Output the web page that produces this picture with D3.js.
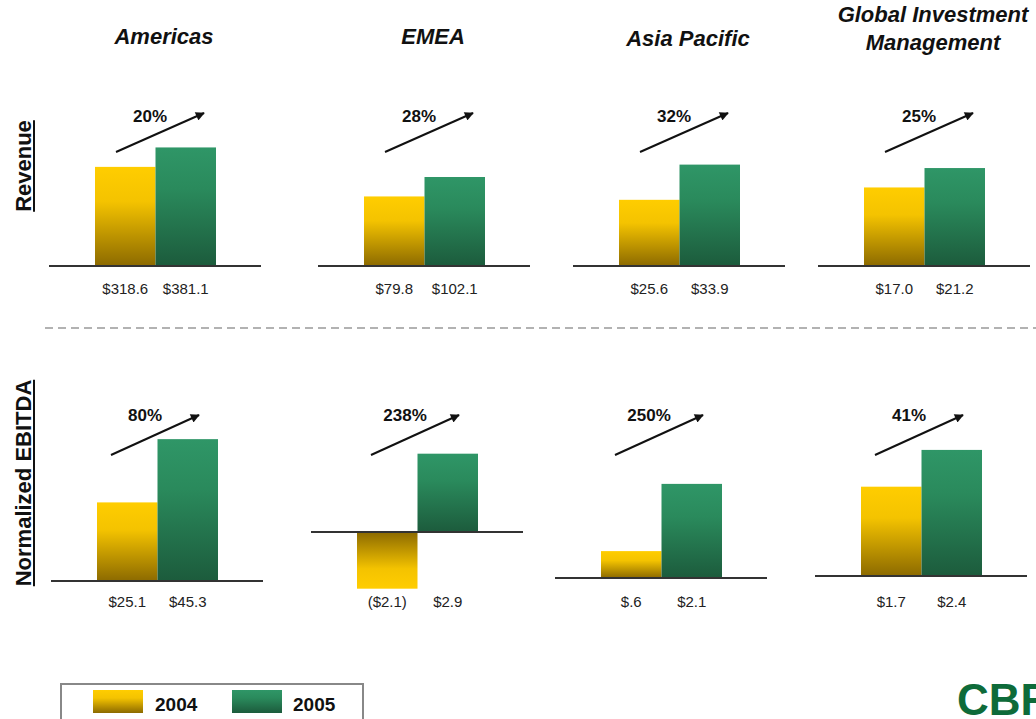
<!DOCTYPE html>
<html><head><meta charset="utf-8">
<script src="https://cdn.jsdelivr.net/npm/d3@7/dist/d3.min.js"></script>
<style>
html,body{margin:0;padding:0;background:#fff;}
svg{display:block;font-family:"Liberation Sans",Arial,sans-serif;}
</style></head>
<body>
<svg id="chart" width="1036" height="719"></svg>
<script>
// ---------- DATA ----------
const regions = ["Americas", "EMEA", "Asia Pacific", "Global Investment Management"];
const regionTitleLines = [["Americas"], ["EMEA"], ["Asia Pacific"], ["Global Investment", "Management"]];
const years = ["2004", "2005"];

const revenue2004 = [318.6, 79.8, 25.6, 17.0];
const revenue2005 = [381.1, 102.1, 33.9, 21.2];
const revenueLabels2004 = ["$318.6", "$79.8", "$25.6", "$17.0"];
const revenueLabels2005 = ["$381.1", "$102.1", "$33.9", "$21.2"];
const revenueGrowth = ["20%", "28%", "32%", "25%"];
const revenueDomains = [[0, 450], [0, 160.6], [10, 43], [0, 30.3]];

const ebitda2004 = [25.1, -2.1, 0.6, 1.7];
const ebitda2005 = [45.3, 2.9, 2.1, 2.4];
const ebitdaLabels2004 = ["$25.1", "($2.1)", "$.6", "$1.7"];
const ebitdaLabels2005 = ["$45.3", "$2.9", "$2.1", "$2.4"];
const ebitdaGrowth = ["80%", "238%", "250%", "41%"];
const ebitdaDomains = [[0, 47.9], [-1.815, 3.74], [-0.067, 3.28], [-0.095, 2.76]];

const rowTitles = ["Revenue", "Normalized EBITDA"];

// ---------- LAYOUT ----------
const svg = d3.select("#chart");
const rows = [
  { key: "rev", v04: revenue2004, v05: revenue2005, l04: revenueLabels2004, l05: revenueLabels2005,
    growth: revenueGrowth, domains: revenueDomains, range: [266, 126],
    centers: [155, 424, 679, 924], labelY: 294, pctY: 122,
    arrow: { x1: -39, y1: 152, x2: 49, y2: 113 }, titleY: 166 },
  { key: "ebitda", v04: ebitda2004, v05: ebitda2005, l04: ebitdaLabels2004, l05: ebitdaLabels2005,
    growth: ebitdaGrowth, domains: ebitdaDomains, range: [581, 431],
    centers: [157, 417, 661, 921], labelY: 607, pctY: 421,
    arrow: { x1: -46, y1: 455, x2: 42, y2: 415 }, titleY: 483 }
];

const defs = svg.append("defs");
function grad(id, c0, cMid, c1, flip) {
  const g = defs.append("linearGradient").attr("id", id)
    .attr("x1", 0).attr("y1", flip ? 1 : 0).attr("x2", 0).attr("y2", flip ? 0 : 1);
  g.append("stop").attr("offset", "0%").attr("stop-color", c0);
  g.append("stop").attr("offset", "35%").attr("stop-color", cMid);
  g.append("stop").attr("offset", "100%").attr("stop-color", c1);
}
grad("yUp", "#ffcd00", "#f4c300", "#8c6a00", false);
grad("yDown", "#ffcd00", "#f4c300", "#8c6a00", true);
grad("gUp", "#2f9667", "#2a8a5c", "#1c5b3c", false);
grad("gDown", "#2f9667", "#2a8a5c", "#1c5b3c", true);

defs.append("marker").attr("id", "arrowHead")
  .attr("viewBox", "0 0 10 10").attr("refX", 9).attr("refY", 5)
  .attr("markerWidth", 5).attr("markerHeight", 4.5).attr("orient", "auto")
  .attr("markerUnits", "strokeWidth")
  .append("path").attr("d", "M0,0 L10,5 L0,10 z").attr("fill", "#111");

const xBar = d3.scaleBand().domain(years).range([-60, 61]).paddingInner(0).paddingOuter(0);

// Region titles
regionTitleLines.forEach((lines, i) => {
  const cx = rows[0].centers[i] + 9;
  const t = svg.append("text").attr("text-anchor", "middle")
    .attr("font-size", 22).attr("font-weight", "bold").attr("font-style", "italic").attr("fill", "#111");
  if (lines.length === 1) {
    t.append("tspan").attr("x", cx).attr("y", i === 2 ? 46 : 44).text(lines[0]);
  } else {
    t.append("tspan").attr("x", cx).attr("y", 22).text(lines[0]);
    t.append("tspan").attr("x", cx).attr("y", 50).text(lines[1]);
  }
});

rows.forEach((row, ri) => {
  // Row title (rotated, underlined)
  const rt = svg.append("g").attr("transform", `translate(31,${row.titleY}) rotate(-90)`);
  const txt = rt.append("text").attr("text-anchor", "middle").attr("font-size", 22)
    .attr("font-weight", "bold").attr("fill", "#111").text(rowTitles[ri]);
  const len = txt.node().getComputedTextLength();
  rt.append("line").attr("x1", -len / 2).attr("x2", len / 2).attr("y1", 3).attr("y2", 3)
    .attr("stroke", "#111").attr("stroke-width", 2);

  regions.forEach((r, i) => {
    const g = svg.append("g").attr("transform", `translate(${row.centers[i]},0)`);
    const dom = row.domains[i];
    const y = d3.scaleLinear().domain(dom).range(row.range);
    const base = y(Math.max(0, dom[0]));
    const vals = [row.v04[i], row.v05[i]];
    const labs = [row.l04[i], row.l05[i]];
    vals.forEach((v, k) => {
      const neg = v < 0;
      const fill = k === 0 ? (neg ? "yDown" : "yUp") : (neg ? "gDown" : "gUp");
      g.append("rect")
        .attr("x", xBar(years[k])).attr("width", xBar.bandwidth())
        .attr("y", Math.min(y(v), base)).attr("height", Math.abs(y(v) - base))
        .attr("fill", `url(#${fill})`);
      g.append("text").attr("x", xBar(years[k]) + xBar.bandwidth() / 2).attr("y", row.labelY)
        .attr("text-anchor", "middle").attr("font-size", 15).attr("fill", "#222").text(labs[k]);
    });
    // baseline axis
    g.append("line").attr("x1", -106).attr("x2", 106).attr("y1", base).attr("y2", base)
      .attr("stroke", "#333").attr("stroke-width", 2);
    // growth arrow
    g.append("line").attr("x1", row.arrow.x1).attr("y1", row.arrow.y1)
      .attr("x2", row.arrow.x2).attr("y2", row.arrow.y2)
      .attr("stroke", "#111").attr("stroke-width", 2).attr("marker-end", "url(#arrowHead)");
    g.append("text").attr("x", row.arrow.x1 + 34).attr("y", row.pctY).attr("text-anchor", "middle")
      .attr("font-size", 17).attr("font-weight", "bold").attr("fill", "#111").text(row.growth[i]);
  });
});

// dashed separator
svg.append("line").attr("x1", 45).attr("x2", 1036).attr("y1", 328).attr("y2", 328)
  .attr("stroke", "#999").attr("stroke-width", 1.5).attr("stroke-dasharray", "8,5");

// legend
const leg = svg.append("g");
leg.append("rect").attr("x", 61).attr("y", 684).attr("width", 302).attr("height", 60)
  .attr("fill", "none").attr("stroke", "#888").attr("stroke-width", 2);
const legItems = [{ y: years[0], f: "yUp", x: 93, tx: 155 }, { y: years[1], f: "gUp", x: 232, tx: 293 }];
legItems.forEach(d => {
  leg.append("rect").attr("x", d.x).attr("y", 690).attr("width", 50).attr("height", 23)
    .attr("fill", `url(#${d.f})`);
  leg.append("text").attr("x", d.tx).attr("y", 711).attr("font-size", 19).attr("font-weight", "bold")
    .attr("fill", "#111").text(d.y);
});

// logo (cut off at the right edge, as in the reference)
svg.append("text").attr("x", 957).attr("y", 715).attr("font-size", 44).attr("font-weight", "bold")
  .attr("fill", "#0e6b3a").text("CBRE");
</script>
</body></html>
